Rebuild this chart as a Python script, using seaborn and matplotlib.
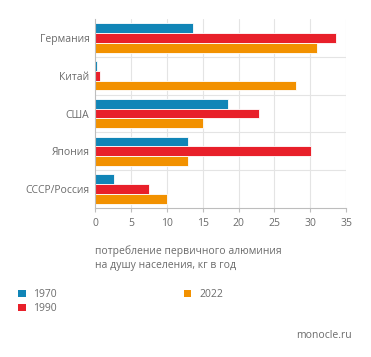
import matplotlib
matplotlib.use("Agg")
import matplotlib.pyplot as plt
import seaborn as sns
import pandas as pd
from matplotlib.patches import Patch

countries = ["Германия", "Китай", "США", "Япония", "СССР/Россия"]
years = ["1970", "1990", "2022"]
v1970 = [13.6, 0.3, 18.5, 12.9, 2.7]
v1990 = [33.6, 0.7, 22.8, 30.1, 7.5]
v2022 = [31.0, 28.0, 15.0, 13.0, 10.0]
colors = ["#1185b7", "#e8202a", "#f29100"]
xticks = [0, 5, 10, 15, 20, 25, 30, 35]
xlabel = "потребление первичного алюминия\nна душу населения, кг в год"
source = "monocle.ru"

rows = []
for c, a, b, d in zip(countries, v1970, v1990, v2022):
    rows += [(c, "1970", a), (c, "1990", b), (c, "2022", d)]
df = pd.DataFrame(rows, columns=["country", "year", "value"])

sns.set_theme(style="white")
plt.rcParams["font.family"] = ["Open Sans", "DejaVu Sans"]
txt = "#6b6b6b"

fig = plt.figure(figsize=(3.71, 3.57), dpi=100)
ax = fig.add_axes([0.256, 0.417, 0.677, 0.53])
sns.barplot(data=df, y="country", x="value", hue="year", order=countries,
            hue_order=years, palette=colors, orient="h", width=0.78,
            edgecolor="white", linewidth=0.6, saturation=1, ax=ax, legend=False)

ax.set_xlim(0, 35)
ax.set_ylim(len(countries) - 0.5, -0.5)
ax.set_xticks(xticks)
ax.set_xticklabels([str(t) for t in xticks])
for t in xticks[1:]:
    ax.axvline(t, color="#e4e4e4", lw=0.8, zorder=0)
for i in range(1, len(countries)):
    ax.axhline(i - 0.5, color="#e4e4e4", lw=0.8, zorder=0)
ax.set_axisbelow(True)
for s in ["top", "right"]:
    ax.spines[s].set_visible(False)
ax.spines["left"].set_color("#bdbdbd")
ax.spines["bottom"].set_color("#bdbdbd")
ax.spines["left"].set_linewidth(0.8)
ax.spines["bottom"].set_linewidth(0.8)
ax.tick_params(axis="x", length=3, width=0.8, color="#bdbdbd", labelsize=7.5,
               labelcolor=txt, pad=4, bottom=True)
ax.tick_params(axis="y", length=0, labelsize=7.5, labelcolor=txt, pad=4)
ax.set_xlabel("")
ax.set_ylabel("")

fig.text(95 / 371, 1 - 245 / 357, xlabel, ha="left", va="top", fontsize=7.5,
         color=txt, linespacing=1.4)

handles = [Patch(facecolor=c, edgecolor="none") for c in colors]
fig.legend(handles, years, ncol=2, loc="upper left",
           bbox_to_anchor=(9 / 371, 1 - 280 / 357), frameon=False,
           fontsize=7.5, labelcolor=txt, handlelength=0.7, handleheight=0.7,
           handletextpad=0.75, columnspacing=12.2, labelspacing=0.25)

fig.text(352 / 371, 1 - 335 / 357, source, ha="right", va="center",
         fontsize=7.5, color=txt)

fig.savefig("out.png", dpi=100)
